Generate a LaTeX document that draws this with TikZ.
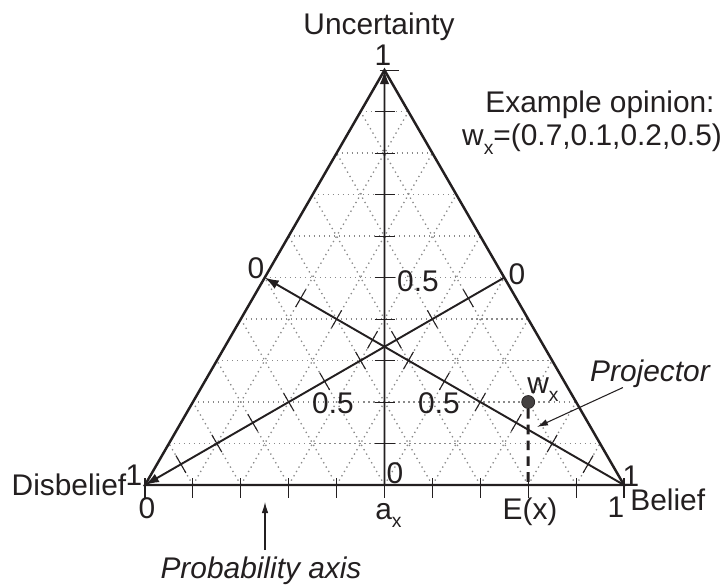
\documentclass[tikz,border=0pt]{standalone}
\usepackage{fontspec}
\setmainfont{Liberation Sans}
\usepackage{tikz}
\usetikzlibrary{arrows.meta,calc}
\definecolor{ink}{HTML}{231F20}
\definecolor{gridgray}{HTML}{8A8A8A}
\newcommand{\lowx}{\raisebox{-5pt}{\fontsize{11}{12}\selectfont x}}

\begin{document}
\begin{tikzpicture}[scale=1.0,
  lbl/.style={font=\fontsize{17}{20}\selectfont,inner sep=0pt,text=ink},
  lbli/.style={lbl,font=\fontsize{17}{20}\selectfont\itshape},
  rim/.style={line width=1.4pt,draw=ink},
  axisline/.style={line width=1.1pt,draw=ink,-{Latex[length=2.8mm,width=1.9mm]}},
  tickmark/.style={line width=0.6pt,draw=ink},
  gridline/.style={draw=gridgray,line width=0.75pt,dash pattern=on 0.75pt off 2.1pt},
  pointer/.style={line width=0.6pt,draw=ink,-{Latex[length=2.2mm,width=1.3mm]}}]
\useasboundingbox (-2.9,-2.02) rectangle (11.6,9.7);
\coordinate (D) at (0,0);
\coordinate (B) at (9.58,0);
\coordinate (U) at (4.79,8.297);
\coordinate (A) at ($(D)!0.5!(B)$);
\coordinate (ML) at ($(D)!0.5!(U)$);
\coordinate (MR) at ($(B)!0.5!(U)$);
% dotted grid
\foreach \k in {1,...,9} {
  \draw[gridline] ($(D)!\k/10!(U)$) -- ($(B)!\k/10!(U)$);
  \draw[gridline] ($(D)!\k/10!(B)$) -- ($(D)!\k/10!(U)$);
  \draw[gridline] ($(D)!\k/10!(B)$) -- ($(U)!\k/10!(B)$);
}
% ticks
\foreach \k in {0,...,10}
  \draw[tickmark] ($(D)!\k/10!(B)$) ++(0,0.14) -- ++(0,-0.4);
\foreach \k in {1,...,9}
  \draw[tickmark] ($(A)!\k/10!(U)$) ++(-0.2,0) -- ++(0.4,0);
\draw[tickmark] ($(U)+(-0.1,0)$) -- ++(0.38,0);
\foreach \k in {1,...,10}
  \draw[tickmark] ($(D)!\k/10!(MR)$) ++(120:0.2) -- ++(300:0.4);
\foreach \k in {1,...,9}
  \draw[tickmark] ($(ML)!\k/10!(B)$) ++(60:0.2) -- ++(240:0.4);
% triangle and axes
\draw[rim] (D) -- (B) -- (U) -- cycle;
\draw[axisline] (A) -- (U);
\draw[axisline] (MR) -- (D);
\draw[axisline] (B) -- (ML);
% opinion and its projection
\coordinate (W) at ($0.7*(B)+0.2*(U)$);
\coordinate (E) at ($(D)!0.8!(B)$);
\node[circle,fill=ink!85,draw=ink,minimum size=0.26cm,inner sep=0pt] (wdot) at (W) {};
\draw[line width=1.7pt,draw=ink,dash pattern=on 5.5pt off 3.5pt] (wdot) -- (E);
% labels
\node[lbl,anchor=base] (unc) at (4.68,9.0) {Uncertainty};
\node[lbl] (uone) at (4.76,8.6) {1};
\node[lbl] (exa) at (9.1,7.6) {Example opinion:};
\node[lbl] (wvec) at (8.94,6.92) {w\lowx=(0.7,0.1,0.2,0.5)};
\node[lbl] (uhalf) at (5.46,4.08) {0.5};
\node[lbl] (dhalf) at (3.76,1.64) {0.5};
\node[lbl] (bhalf) at (5.88,1.64) {0.5};
\node[lbl] (bzero) at (2.22,4.34) {0};
\node[lbl] (dzero) at (7.44,4.22) {0};
\node[lbl] (uzero) at (5.0,0.24) {0};
\node[lbl] (done) at (-0.22,0.2) {1};
\node[lbl] (pzero) at (0.04,-0.46) {0};
\node[lbl] (dis) at (-1.52,0.01) {Disbelief};
\node[lbl] (bone) at (9.72,0.18) {1};
\node[lbl] (pone) at (9.42,-0.44) {1};
\node[lbl,anchor=west] (bel) at (9.7,-0.3) {Belief};
\node[lbl,anchor=base] (ex) at (7.7,-0.68) {E(x)};
\node[lbl,anchor=base west] (ax) at (4.6,-0.68) {a\lowx};
\node[lbl,anchor=base west] (wx) at (7.64,1.84) {w\lowx};
\node[lbli,anchor=base] (prob) at (2.32,-1.86) {Probability axis};
\node[lbli,anchor=base] (proj) at (10.1,2.08) {Projector};
\coordinate (probtip) at (2.4,-0.34);
\coordinate (projtip) at (7.84,1.16);
\draw[pointer] ($(prob.north -| probtip)+(0,0.12)$) -- (probtip);
\draw[pointer] ($(proj.south west)+(0.66,0)$) -- (projtip);
\end{tikzpicture}
\end{document}
